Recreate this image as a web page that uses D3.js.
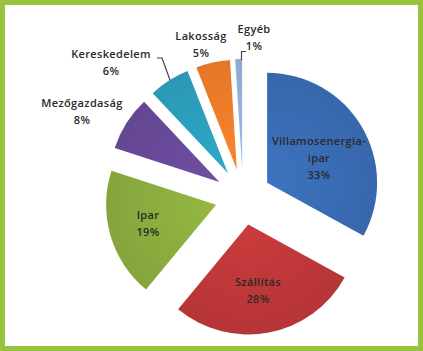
<!DOCTYPE html>
<html lang="hu">
<head>
<meta charset="utf-8">
<title>Pie chart</title>
<script src="https://d3js.org/d3.v7.min.js"></script>
<style>
  html, body { margin: 0; padding: 0; background: #fff; }
  svg { display: block; }
  .label { font-family: "Open Sans", sans-serif; font-size: 11px; font-weight: 600; fill: #2a2a2a; letter-spacing: 0.35px; }
</style>
</head>
<body>
<div id="chart"></div>
<script>
// data
const categories = ["Villamosenergia-ipar", "Szállítás", "Ipar", "Mezőgazdaság", "Kereskedelem", "Lakosság", "Egyéb"];
const values = [33, 28, 19, 8, 6, 5, 1];
const colors = ["#3a6db5", "#c0383a", "#8cae3f", "#6a4a9a", "#2ca0bf", "#ef7e2a", "#93b2de"];
const labelLines = [["Villamosenergia-", "ipar"], ["Szállítás"], ["Ipar"], ["Mezőgazdaság"], ["Kereskedelem"], ["Lakosság"], ["Egyéb"]];

// layout
const width = 423, height = 351;
const cx = 243, cy = 197;
const radius = 110;
const explode = 28;

// label anchors (centre of first line)
const labelPos = [
  [319, 141], [258, 282], [148, 215],
  [82, 103], [111, 54], [201, 36], [254, 29]
];

const svg = d3.select("#chart").append("svg")
  .attr("width", width)
  .attr("height", height);

// frame
svg.append("rect")
  .attr("x", 2.5).attr("y", 2.5)
  .attr("width", width - 5).attr("height", height - 5)
  .attr("fill", "#fff")
  .attr("stroke", "#98c33c")
  .attr("stroke-width", 5);

const data = categories.map((c, i) => ({ name: c, value: values[i], color: colors[i] }));

const pie = d3.pie().value(d => d.value).sort(null);
const arc = d3.arc().innerRadius(0).outerRadius(radius);
const arcs = pie(data);

// gradients for a soft shaded look
const defs = svg.append("defs");
arcs.forEach((a, i) => {
  const g = defs.append("radialGradient")
    .attr("id", "grad" + i)
    .attr("gradientUnits", "userSpaceOnUse")
    .attr("cx", 0).attr("cy", 0).attr("r", radius);
  const c = d3.color(a.data.color);
  g.append("stop").attr("offset", "0%").attr("stop-color", c.brighter(0.15));
  g.append("stop").attr("offset", "100%").attr("stop-color", c.darker(0.15));
});

const pieG = svg.append("g").attr("transform", `translate(${cx},${cy})`);

pieG.selectAll("path")
  .data(arcs)
  .join("path")
  .attr("transform", d => {
    const mid = (d.startAngle + d.endAngle) / 2;
    return `translate(${Math.sin(mid) * explode},${-Math.cos(mid) * explode})`;
  })
  .attr("d", arc)
  .attr("fill", (d, i) => `url(#grad${i})`);

// leader lines
const leaders = [
  [[157, 58], [162, 58], [170, 80]],
  [[246, 51.5], [241.5, 51.5], [241.5, 60]]
];
svg.selectAll("path.leader")
  .data(leaders)
  .join("path")
  .attr("class", "leader")
  .attr("d", d3.line().curve(d3.curveLinear))
  .attr("fill", "none")
  .attr("stroke", "#444")
  .attr("stroke-width", 1.2);

// labels
const lg = svg.selectAll("text.label")
  .data(data)
  .join("text")
  .attr("class", "label")
  .attr("text-anchor", "middle")
  .attr("x", (d, i) => labelPos[i][0])
  .attr("y", (d, i) => labelPos[i][1]);

lg.each(function (d, i) {
  const t = d3.select(this);
  const lines = labelLines[i].concat([d.value + "%"]);
  lines.forEach((s, j) => {
    t.append("tspan")
      .attr("x", labelPos[i][0])
      .attr("dy", j === 0 ? "0.35em" : 17)
      .text(s);
  });
});
</script>
</body>
</html>
